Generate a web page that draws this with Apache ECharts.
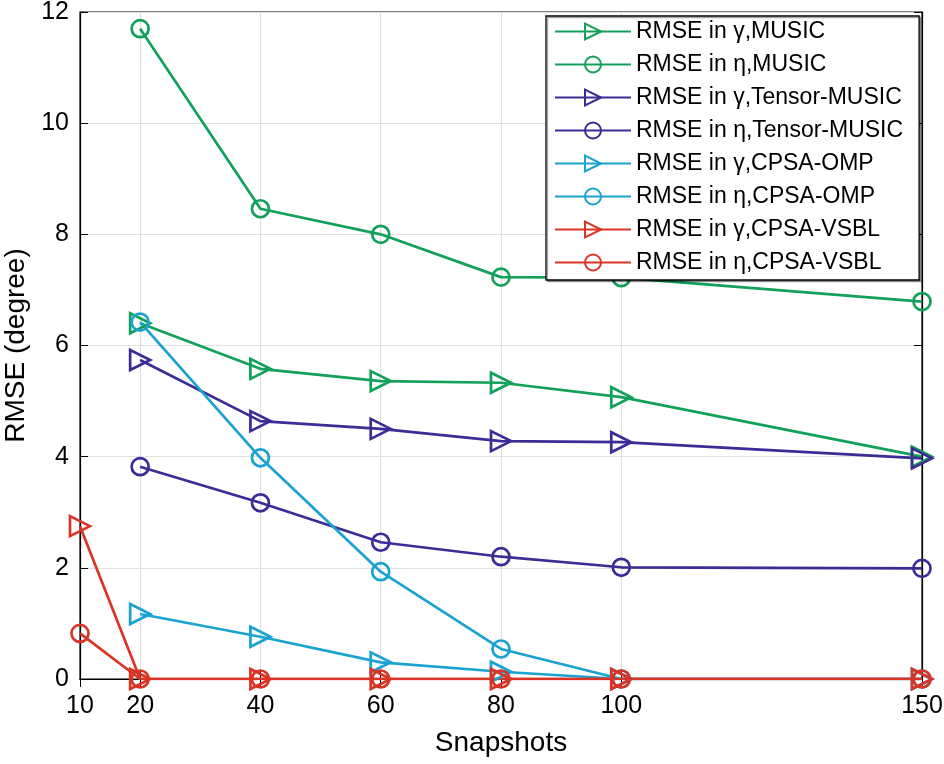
<!DOCTYPE html>
<html>
<head>
<meta charset="utf-8">
<script src="https://cdn.jsdelivr.net/npm/echarts@6/dist/echarts.min.js"></script>
<style>
  html, body { margin: 0; padding: 0; background: #fff; }
  #chart { width: 944px; height: 764px; }
</style>
</head>
<body>
<div id="chart"></div>
<script>
// snapshot counts shown on the x axis
const xTicks = [10, 20, 40, 60, 80, 100, 150]
const snaps = [20, 40, 60, 80, 100, 150]
const snapsVsbl = [10, 20, 40, 60, 80, 100, 150]

// RMSE values (degree)
const gammaMusic = [6.40, 5.58, 5.36, 5.33, 5.07, 4.00]
const etaMusic = [11.70, 8.46, 8.00, 7.23, 7.22, 6.79]
const gammaTensor = [5.74, 4.64, 4.50, 4.28, 4.26, 3.97]
const etaTensor = [3.82, 3.17, 2.46, 2.20, 2.01, 1.99]
const gammaOmp = [1.17, 0.76, 0.30, 0.13, 0, 0]
const etaOmp = [6.42, 3.98, 1.93, 0.54, 0, 0]
const gammaVsbl = [2.75, 0, 0, 0, 0, 0, 0]
const etaVsbl = [0.82, 0, 0, 0, 0, 0, 0]

const GREEN = '#13a05a'
const PURPLE = '#3b2c96'
const CYAN = '#1aa3d0'
const RED = '#d93425'

const font = 'Liberation Sans, Arial, Helvetica, sans-serif'

function mk(name, xs, ys, color, tri) {
  return {
    name: name,
    type: 'line',
    data: xs.map((x, i) => [x, ys[i]]),
    symbol: tri ? 'triangle' : 'circle',
    symbolRotate: tri ? -90 : 0,
    symbolSize: tri ? 20 : 17,
    lineStyle: { color: color, width: 2.7 },
    itemStyle: { color: 'rgba(255,255,255,0)', borderColor: color, borderWidth: 2.7 },
    emphasis: { disabled: true },
    animation: false
  }
}

const chart = echarts.init(document.getElementById('chart'))
chart.setOption({
  backgroundColor: '#fff',
  textStyle: { fontFamily: font },
  grid: {
    left: 80, right: 22, top: 12, bottom: 85,
    outerBoundsMode: 'none', containLabel: false,
    show: true, borderColor: '#000', borderWidth: 1.2, backgroundColor: 'transparent'
  },
  legend: {
    orient: 'vertical',
    left: 546,
    top: 16,
    padding: [4, 16, 6, 8],
    itemWidth: 76,
    itemHeight: 20,
    itemGap: 10,
    backgroundColor: '#fff',
    borderColor: '#000',
    borderWidth: 1.3,
    borderRadius: 0,
    shadowColor: 'rgba(0,0,0,0.35)',
    shadowOffsetX: 1.5,
    shadowOffsetY: 1.5,
    textStyle: { fontSize: 23, lineHeight: 20, color: '#000', fontFamily: font, padding: [0, 0, 0, 0] },
    data: ['RMSE in γ,MUSIC', 'RMSE in η,MUSIC', 'RMSE in γ,Tensor-MUSIC', 'RMSE in η,Tensor-MUSIC',
      'RMSE in γ,CPSA-OMP', 'RMSE in η,CPSA-OMP', 'RMSE in γ,CPSA-VSBL', 'RMSE in η,CPSA-VSBL']
  },
  xAxis: [{
    type: 'value',
    min: 10,
    max: 150,
    name: 'Snapshots',
    nameLocation: 'middle',
    nameGap: 50,
    nameTextStyle: { fontSize: 28, color: '#000', fontFamily: font },
    axisLine: { lineStyle: { color: '#000', width: 1.2 } },
    axisTick: { inside: true, length: 8, lineStyle: { color: '#000' }, customValues: xTicks },
    axisLabel: { fontSize: 25, color: '#000', margin: 15, customValues: xTicks, fontFamily: font },
    splitLine: { show: true, lineStyle: { color: '#e0e0e0', width: 1.2 } }
  }, {
    type: 'value',
    position: 'top',
    min: 10,
    max: 150,
    axisLine: { lineStyle: { color: '#000', width: 1.2 } },
    axisTick: { inside: true, length: 8, lineStyle: { color: '#000' }, customValues: xTicks },
    axisLabel: { show: false },
    splitLine: { show: false }
  }],
  yAxis: [{
    type: 'value',
    min: 0,
    max: 12,
    interval: 2,
    name: 'RMSE (degree)',
    nameLocation: 'middle',
    nameGap: 48,
    nameTextStyle: { fontSize: 28, color: '#000', fontFamily: font },
    axisLine: { show: true, lineStyle: { color: '#000', width: 1.2 } },
    axisTick: { show: true, inside: true, length: 8, lineStyle: { color: '#000' } },
    axisLabel: { fontSize: 25, color: '#000', margin: 11, fontFamily: font },
    splitLine: { show: true, lineStyle: { color: '#e0e0e0', width: 1.2 } }
  }, {
    type: 'value',
    position: 'right',
    min: 0,
    max: 12,
    interval: 2,
    axisLine: { show: true, lineStyle: { color: '#000', width: 1.2 } },
    axisTick: { show: true, inside: true, length: 8, lineStyle: { color: '#000' } },
    axisLabel: { show: false },
    splitLine: { show: false }
  }],
  series: [
    mk('RMSE in γ,MUSIC', snaps, gammaMusic, GREEN, true),
    mk('RMSE in η,MUSIC', snaps, etaMusic, GREEN, false),
    mk('RMSE in γ,Tensor-MUSIC', snaps, gammaTensor, PURPLE, true),
    mk('RMSE in η,Tensor-MUSIC', snaps, etaTensor, PURPLE, false),
    mk('RMSE in γ,CPSA-OMP', snaps, gammaOmp, CYAN, true),
    mk('RMSE in η,CPSA-OMP', snaps, etaOmp, CYAN, false),
    mk('RMSE in γ,CPSA-VSBL', snapsVsbl, gammaVsbl, RED, true),
    mk('RMSE in η,CPSA-VSBL', snapsVsbl, etaVsbl, RED, false)
  ]
})
</script>
</body>
</html>
